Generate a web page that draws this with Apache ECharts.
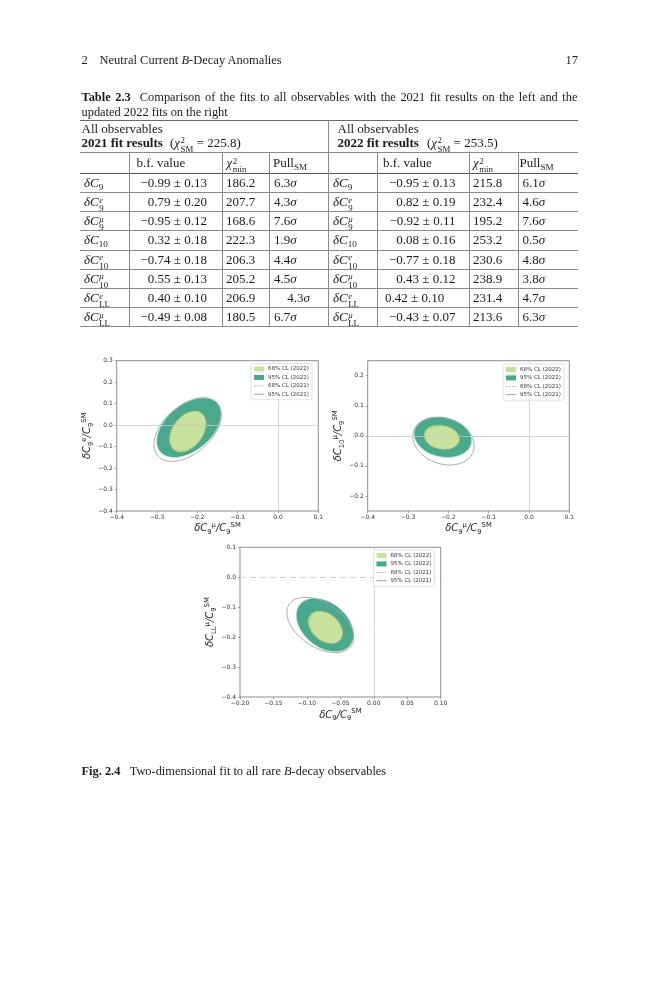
<!DOCTYPE html>
<html>
<head>
<meta charset="utf-8">
<script src="https://cdn.jsdelivr.net/npm/echarts@6/dist/echarts.min.js"></script>
<style>
  html, body { margin: 0; padding: 0; background: #fff; }
  #page { position: relative; width: 659px; height: 1000px; overflow: hidden;
          font-family: "Liberation Serif", "DejaVu Serif", serif; color: #1a1a1a; }
  #chart { position: absolute; left: 0; top: 0; width: 659px; height: 1000px; }
  .hl { position: absolute; height: 0; }
  .vl { position: absolute; width: 0; border-left: 0.8px solid #8a8a8a; }
  .cell { position: absolute; white-space: nowrap; font-size: 13px; }
  .st { display: inline-block; vertical-align: middle; font-size: 0.68em; line-height: 0.92em;
        text-align: left; position: relative; top: 0.12em; margin-left: 0.5px; }
  .st span { display: block; }
  .sb { font-size: 0.7em; position: relative; top: 0.3em; }
</style>
</head>
<body>
<div id="page">
  <div id="chart"></div>
</div>
<script>
// ---- table data (Table 2.3) ----
var coefBase = ['9', '9', '9', '10', '10', '10', 'LL', 'LL'];
var coefLep  = ['', 'e', 'μ', '', 'e', 'μ', 'e', 'μ'];
var bf2021   = [-0.99, 0.79, -0.95, 0.32, -0.74, 0.55, 0.40, -0.49];
var err2021  = [0.13, 0.20, 0.12, 0.18, 0.18, 0.13, 0.10, 0.08];
var chi2021  = [186.2, 207.7, 168.6, 222.3, 206.3, 205.2, 206.9, 180.5];
var pull2021 = [6.3, 4.3, 7.6, 1.9, 4.4, 4.5, 4.3, 6.7];
var bf2022   = [-0.95, 0.82, -0.92, 0.08, -0.77, 0.43, 0.42, -0.43];
var err2022  = [0.13, 0.19, 0.11, 0.16, 0.18, 0.12, 0.10, 0.07];
var chi2022  = [215.8, 232.4, 195.2, 253.2, 230.6, 238.9, 231.4, 213.6];
var pull2022 = [6.1, 4.6, 7.6, 0.5, 4.8, 3.8, 4.7, 6.3];
var chiSM    = [225.8, 253.5];

// ---- figure data (Fig. 2.4) ----
// each contour: [centre x, centre y, half width in x, half height in y, tilt]
var legendNames = ['68% CL (2022)', '95% CL (2022)', '68% CL (2021)', '95% CL (2021)'];
var c9eVsC9mu = [
  [-0.224, -0.030, 0.045, 0.095, 0.38],
  [-0.221, -0.012, 0.080, 0.139, 0.45],
  [-0.222, -0.027, 0.046, 0.094, 0.38],
  [-0.224, -0.021, 0.0835, 0.148, 0.47]
];
var c10muVsC9mu = [
  [-0.2165, -0.0045, 0.0435, 0.040, -0.15],
  [-0.2135, -0.0045, 0.0715, 0.0675, -0.16],
  [-0.214, -0.008, 0.044, 0.041, -0.15],
  [-0.212, -0.0175, 0.076, 0.0795, -0.2]
];
var cLLmuVsC9 = [
  [-0.0725, -0.167, 0.0255, 0.054, -0.35],
  [-0.073, -0.1595, 0.043, 0.0895, -0.36],
  [-0.071, -0.168, 0.026, 0.055, -0.35],
  [-0.080, -0.1595, 0.050, 0.0925, -0.45]
];
var yTicks2 = [-0.2, -0.1, 0.0, 0.1, 0.2];

function fmt(v) { return (v < 0 ? '−' : '') + Math.abs(v).toFixed(2); }
function pm(v, e) { return fmt(v) + ' ± ' + e.toFixed(2); }
function stack(up, down) { return '<span class="st"><span>' + (up || '&nbsp;') + '</span><span>' + down + '</span></span>'; }
function coef(i) {
  if (coefLep[i] === '') return '<i>δC</i><span class="sb">' + coefBase[i] + '</span>';
  return '<i>δC</i>' + stack('<i>' + coefLep[i] + '</i>', coefBase[i]);
}

var page = document.getElementById('page');
function put(html, x, y, h, style) {
  var d = document.createElement('div');
  d.className = 'cell';
  d.innerHTML = html;
  d.style.left = x + 'px';
  d.style.top = y + 'px';
  d.style.height = h + 'px';
  d.style.lineHeight = h + 'px';
  if (style) d.style.cssText += style;
  page.appendChild(d);
  return d;
}
function putRight(html, xr, y, h, style) {
  var d = put(html, 0, y, h, style);
  d.style.left = 'auto';
  d.style.right = (659 - xr) + 'px';
}
function hline(y, x0, x1, w, c) {
  var d = document.createElement('div');
  d.className = 'hl';
  d.style.cssText = 'left:' + x0 + 'px;top:' + y + 'px;width:' + (x1 - x0) + 'px;border-top:' + w + 'px solid ' + c + ';';
  page.appendChild(d);
}
function vline(x, y0, y1) {
  var d = document.createElement('div');
  d.className = 'vl';
  d.style.cssText += 'left:' + x + 'px;top:' + y0 + 'px;height:' + (y1 - y0) + 'px;';
  page.appendChild(d);
}

// running head
put('2', 81.5, 52, 16, 'font-size:12.5px;');
put('Neutral Current <i>B</i>-Decay Anomalies', 99.5, 52, 16, 'font-size:12.5px;');
putRight('17', 578, 52, 16, 'font-size:12.5px;');

// table caption
put('<b>Table 2.3</b>&nbsp;&nbsp;Comparison of the fits to all observables with the 2021 fit results on the left and the',
    81.5, 90, 15, 'font-size:12.4px;width:496px;text-align:justify;text-align-last:justify;');
put('updated 2022 fits on the right', 81.5, 104.5, 15, 'font-size:12.4px;');

// table grid
var colX = [80, 129.3, 222.3, 269.3, 328.3, 377.3, 469.3, 518.3, 578.3];
var rowTop = 173.3, rowH = 19.05;
hline(120, 80, 578.3, 0.9, '#6a6a6a');
hline(151.7, 80, 578.3, 0.8, '#8a8a8a');
hline(173.3, 80, 578.3, 1.2, '#555');
for (var r = 1; r <= 8; r++) hline(rowTop + r * rowH, 80, 578.3, 0.8, '#8a8a8a');
vline(328.3, 120, rowTop + 8 * rowH);
[1, 2, 3, 5, 6, 7].forEach(function (k) { vline(colX[k], 151.7, rowTop + 8 * rowH); });

// table header
var chiSym = function (sub) { return '<i>χ</i>' + stack('2', sub); };
put('All observables', 81.5, 121, 15);
put('<b>2021 fit results</b>', 81.5, 134.5, 15);
put('(' + chiSym('SM') + ' = ' + chiSM[0].toFixed(1) + ')', 170, 134.5, 15);
put('All observables', 337.5, 121, 15);
put('<b>2022 fit results</b>', 337.5, 134.5, 15);
put('(' + chiSym('SM') + ' = ' + chiSM[1].toFixed(1) + ')', 427, 134.5, 15);
[0, 1].forEach(function (h) {
  var off = h ? 246.5 : 0;
  put('b.f. value', 136.5 + off, 152, 21.3);
  put(chiSym('min'), 226.5 + off, 152, 21.3);
  put('Pull<span class="sb">SM</span>', 273 + off, 152, 21.3);
});

// table body
for (var i = 0; i < 8; i++) {
  var y = rowTop + i * rowH;
  put(coef(i), 84, y, rowH);
  putRight(pm(bf2021[i], err2021[i]), 207, y, rowH);
  put(chi2021[i].toFixed(1), 226, y, rowH);
  if (i === 6) putRight(pull2021[i].toFixed(1) + '<i>σ</i>', 310, y, rowH);
  else put(pull2021[i].toFixed(1) + '<i>σ</i>', 274, y, rowH);
  put(coef(i), 333, y, rowH);
  if (i === 6) put(pm(bf2022[i], err2022[i]), 385, y, rowH);
  else putRight(pm(bf2022[i], err2022[i]), 455.5, y, rowH);
  put(chi2022[i].toFixed(1), 473, y, rowH);
  put(pull2022[i].toFixed(1) + '<i>σ</i>', 522.5, y, rowH);
}

// figure caption
put('<b>Fig. 2.4</b>&nbsp;&nbsp;&nbsp;Two-dimensional fit to all rare <i>B</i>-decay observables', 81.5, 763, 16, 'font-size:12.4px;');

// ---- chart ----
var light = '#c6e29c', dark = '#48a98c', line95 = '#a79ea6', line68 = '#b39a6c';

function ellipse(style) {
  return function (params, api) {
    var cx = api.value(0), cy = api.value(1), sx = api.value(2), sy = api.value(3), rho = api.value(4);
    var q = Math.sqrt(1 - rho * rho);
    var pts = [];
    for (var k = 0; k < 90; k++) {
      var t = 2 * Math.PI * k / 90;
      pts.push(api.coord([cx + sx * Math.cos(t), cy + sy * (rho * Math.cos(t) + q * Math.sin(t))]));
    }
    return { type: 'polygon', shape: { points: pts }, style: style };
  };
}
var styles = [
  { fill: light, stroke: '#b9d98a', lineWidth: 0.5 },
  { fill: dark, stroke: '#c4eee2', lineWidth: 0.8 },
  { fill: 'none', stroke: line68, lineWidth: 0.8, lineDash: [2, 1.5] },
  { fill: 'none', stroke: line95, lineWidth: 0.9 }
];
var drawOrder = [1, 0, 3, 2];

function contourSeries(data, g, dashedZero) {
  var out = drawOrder.map(function (j, n) {
    return {
      type: 'custom', name: legendNames[j], xAxisIndex: g, yAxisIndex: g,
      renderItem: ellipse(styles[j]), data: [data[j]], z: 2 + n, silent: true
    };
  });
  out.push({
    type: 'line', xAxisIndex: g, yAxisIndex: g, data: [], z: 7, silent: true,
    markLine: {
      symbol: 'none', silent: true, label: { show: false },
      lineStyle: { color: '#c8c8c8', width: 1, opacity: 0.75, type: 'solid' },
      data: [
        { yAxis: 0, lineStyle: { type: dashedZero ? [6, 4] : 'solid' } },
        { xAxis: 0 }
      ]
    }
  });
  return out;
}

var rich = {
  b: { fontSize: 10, fontStyle: 'italic', color: '#222', lineHeight: 14, verticalAlign: 'middle', fontFamily: 'DejaVu Sans' },
  d: { fontSize: 6.8, color: '#222', lineHeight: 14, verticalAlign: 'bottom', fontFamily: 'DejaVu Sans' },
  u: { fontSize: 6.8, color: '#222', lineHeight: 14, verticalAlign: 'top', fontFamily: 'DejaVu Sans' }
};
function axName(sub, sup) {
  var s = '{b|δC}{d|' + sub + '}';
  if (sup) s += '{u|' + sup + '}';
  return s + '{b|/C}{d|9}{u|SM}';
}
function tickFmt(dp) { return function (v) { return (v < -1e-9 ? '−' : '') + Math.abs(v).toFixed(dp); }; }

var tickStyle = { show: true, inside: false, length: 2, lineStyle: { color: '#666', width: 0.6 } };
function xAx(g, min, max, step, dp, name, gap) {
  return {
    type: 'value', gridIndex: g, min: min, max: max, interval: step,
    name: name, nameLocation: 'middle', nameGap: gap, nameTextStyle: { rich: rich },
    axisLine: { show: false, onZero: false }, splitLine: { show: false },
    axisTick: Object.assign({}, tickStyle),
    axisLabel: { fontSize: 6, color: '#333', margin: 3.5, fontFamily: 'DejaVu Sans', formatter: tickFmt(dp) }
  };
}
function yAx(g, min, max, step, name, gap, ticks) {
  var a = {
    type: 'value', gridIndex: g, min: min, max: max,
    name: name, nameLocation: 'middle', nameRotate: 90, nameGap: gap, nameTextStyle: { rich: rich },
    axisLine: { show: false, onZero: false }, splitLine: { show: false },
    axisTick: Object.assign({}, tickStyle),
    axisLabel: { fontSize: 6, color: '#333', margin: 4, fontFamily: 'DejaVu Sans', formatter: tickFmt(1) }
  };
  if (ticks) { a.axisLabel.customValues = ticks; a.axisTick.customValues = ticks; }
  else a.interval = step;
  return a;
}
function legendAt(x, y) {
  var dash = 'path://M0,0H4V2H0Z M7,0H11V2H7Z M14,0H18V2H14Z M21,0H24V2H21Z';
  return {
    left: x, top: y, orient: 'vertical', itemWidth: 10, itemHeight: 5, itemGap: 2.4,
    padding: [2.5, 3, 2.5, 3], backgroundColor: '#fff', borderColor: '#cfcfcf', borderWidth: 0.6,
    borderRadius: 1.5, selectedMode: false, z: 20,
    textStyle: { fontSize: 5.5, color: '#333', fontFamily: 'DejaVu Sans', padding: [0, 0, 0, -1] },
    data: [
      { name: legendNames[0], icon: 'rect', itemStyle: { color: light } },
      { name: legendNames[1], icon: 'rect', itemStyle: { color: dark } },
      { name: legendNames[2], icon: dash, itemStyle: { color: '#999' } },
      { name: legendNames[3], icon: 'path://M0,0H24V2H0Z', itemStyle: { color: '#8c8c8c' } }
    ]
  };
}

var gridBox = { show: true, borderColor: '#707070', borderWidth: 0.8, backgroundColor: 'transparent' };
var option = {
  animation: false,
  backgroundColor: 'transparent',
  grid: [
    Object.assign({ left: 116.7, top: 360.7, width: 201.6, height: 150.3 }, gridBox),
    Object.assign({ left: 367.7, top: 360.7, width: 201.6, height: 150.3 }, gridBox),
    Object.assign({ left: 240, top: 547.3, width: 200.7, height: 149.7 }, gridBox)
  ],
  xAxis: [
    xAx(0, -0.4, 0.1, 0.1, 1, axName('9', 'μ'), 10),
    xAx(1, -0.4, 0.1, 0.1, 1, axName('9', 'μ'), 10),
    xAx(2, -0.2, 0.1, 0.05, 2, axName('9', ''), 11)
  ],
  yAxis: [
    yAx(0, -0.4, 0.3, 0.1, axName('9', 'e'), 19),
    yAx(1, -0.25, 0.25, 0.1, axName('10', 'μ'), 19, yTicks2),
    yAx(2, -0.4, 0.1, 0.1, axName('LL', 'μ'), 19)
  ],
  legend: [legendAt(251, 363.5), legendAt(503, 364), legendAt(373.5, 550)],
  series: [].concat(
    contourSeries(c9eVsC9mu, 0, false),
    contourSeries(c10muVsC9mu, 1, false),
    contourSeries(cLLmuVsC9, 2, true)
  )
};

var myChart = echarts.init(document.getElementById('chart'), null, { renderer: 'canvas' });
myChart.setOption(option);
</script>
</body>
</html>
